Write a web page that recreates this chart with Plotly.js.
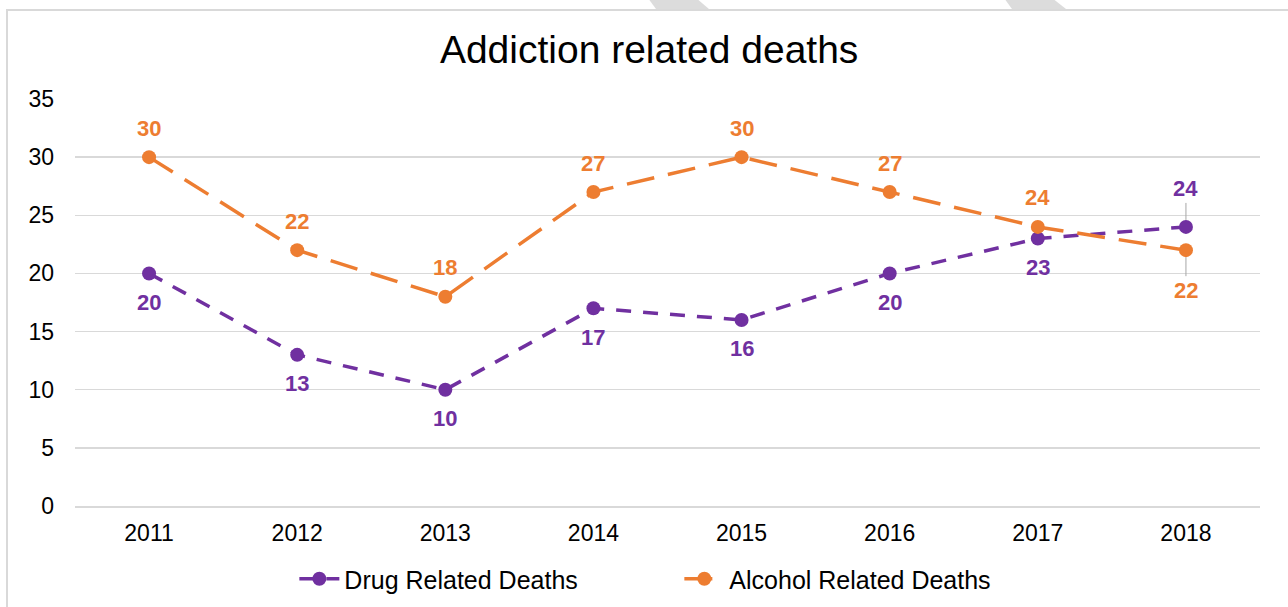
<!DOCTYPE html>
<html>
<head>
<meta charset="utf-8">
<script src="https://cdn.plot.ly/plotly-3.0.1.min.js"></script>
<style>
html,body{margin:0;padding:0;background:#fff;}
#chart{width:1288px;height:607px;}
</style>
</head>
<body>
<div id="chart"></div>
<script>
const years = ['2011','2012','2013','2014','2015','2016','2017','2018'];
const drugDeaths = [20, 13, 10, 17, 16, 20, 23, 24];
const alcoholDeaths = [30, 22, 18, 27, 30, 27, 24, 22];
const drugName = 'Drug Related Deaths';
const alcoholName = 'Alcohol Related Deaths';
const chartTitle = 'Addiction related deaths';

const PURPLE = '#7030A0';
const ORANGE = '#ED7D31';
const FONT = 'Liberation Sans, Arial, sans-serif';

const W = 1288, H = 607;
const M = {l: 75, r: 28, t: 99, b: 101, autoexpand: false};
const PW = W - M.l - M.r, PH = H - M.t - M.b;
function px(x, y) { return [(x - M.l) / PW, (H - M.b - y) / PH]; }
function pathFrom(pts) {
  return pts.map((p, i) => { const q = px(p[0], p[1]); return (i ? 'L' : 'M') + q[0].toFixed(4) + ',' + q[1].toFixed(4); }).join(' ') + ' Z';
}

const traces = [
  {
    x: years, y: drugDeaths, name: drugName, type: 'scatter', mode: 'lines+markers',
    line: {color: PURPLE, width: 3.5, dash: '15px,12px'},
    marker: {color: PURPLE, size: 14},
    hoverinfo: 'x+y'
  },
  {
    x: years, y: alcoholDeaths, name: alcoholName, type: 'scatter', mode: 'lines+markers',
    line: {color: ORANGE, width: 3.5, dash: '28px,14px'},
    marker: {color: ORANGE, size: 14},
    hoverinfo: 'x+y'
  }
];

const annotations = [];
function addLabels(vals, other, color) {
  vals.forEach((v, i) => {
    const above = v > other[i];
    const last = i === vals.length - 1;
    const a = {
      x: i, y: v, xref: 'x', yref: 'y', text: String(v),
      font: {family: FONT, size: 22, color: color, weight: 'bold'},
    };
    if (last) {
      Object.assign(a, {showarrow: true, arrowhead: 0, arrowwidth: 1, arrowcolor: '#a6a6a6',
        ax: 0, ay: above ? -38 : 40, standoff: 7});
    } else {
      Object.assign(a, {showarrow: false, yshift: above ? 29 : -29});
    }
    annotations.push(a);
  });
}
addLabels(alcoholDeaths, drugDeaths, ORANGE);
addLabels(drugDeaths, alcoholDeaths, PURPLE);

const shapes = [
  {type: 'rect', xref: 'paper', yref: 'paper',
   x0: px(7, 0)[0], x1: px(1300, 0)[0], y0: px(0, 620)[1], y1: px(0, 10)[1],
   line: {color: '#d9d9d9', width: 2}, fillcolor: 'rgba(0,0,0,0)', layer: 'below'},
  {type: 'path', xref: 'paper', yref: 'paper',
   path: pathFrom([[648, -2], [696, -2], [709, 9], [656, 9]]),
   fillcolor: '#dcdcdc', line: {width: 0}, layer: 'below'},
  {type: 'path', xref: 'paper', yref: 'paper',
   path: pathFrom([[1004, -2], [1052, -2], [1066, 9], [1012, 9]]),
   fillcolor: '#dcdcdc', line: {width: 0}, layer: 'below'}
];

const layout = {
  width: W, height: H,
  margin: M,
  paper_bgcolor: '#ffffff', plot_bgcolor: '#ffffff',
  font: {family: FONT, color: '#000000'},
  title: {text: chartTitle, font: {family: FONT, size: 39, color: '#000000'},
          xref: 'container', yref: 'container', x: 0.504, y: 1 - 49 / H, xanchor: 'center', yanchor: 'middle'},
  xaxis: {
    type: 'category', categoryorder: 'array', categoryarray: years,
    range: [-0.5, years.length - 0.5], autorange: false,
    showgrid: false, zeroline: false, showline: true, linecolor: '#d9d9d9', linewidth: 1.5,
    tickfont: {family: FONT, size: 23, color: '#000000'}, ticks: '', ticklabelstandoff: 6,
    fixedrange: true, automargin: false
  },
  yaxis: {
    range: [0, 35], autorange: false, dtick: 5, tick0: 0, showgrid: true, gridcolor: '#d9d9d9', gridwidth: 1.5,
    zeroline: false, showline: false, ticks: '',
    tickfont: {family: FONT, size: 23, color: '#000000'}, ticklabelstandoff: 20,
    fixedrange: true, automargin: false
  },
  showlegend: true,
  legend: {orientation: 'h', x: 0.51, xanchor: 'center', y: px(0, 579)[1], yanchor: 'middle',
           font: {family: FONT, size: 25, color: '#000000'}, itemwidth: 40, entrywidth: 330, tracegroupgap: 0},
  annotations: annotations,
  shapes: shapes
};

Plotly.newPlot('chart', traces, layout, {displayModeBar: false, staticPlot: true});
</script>
</body>
</html>
